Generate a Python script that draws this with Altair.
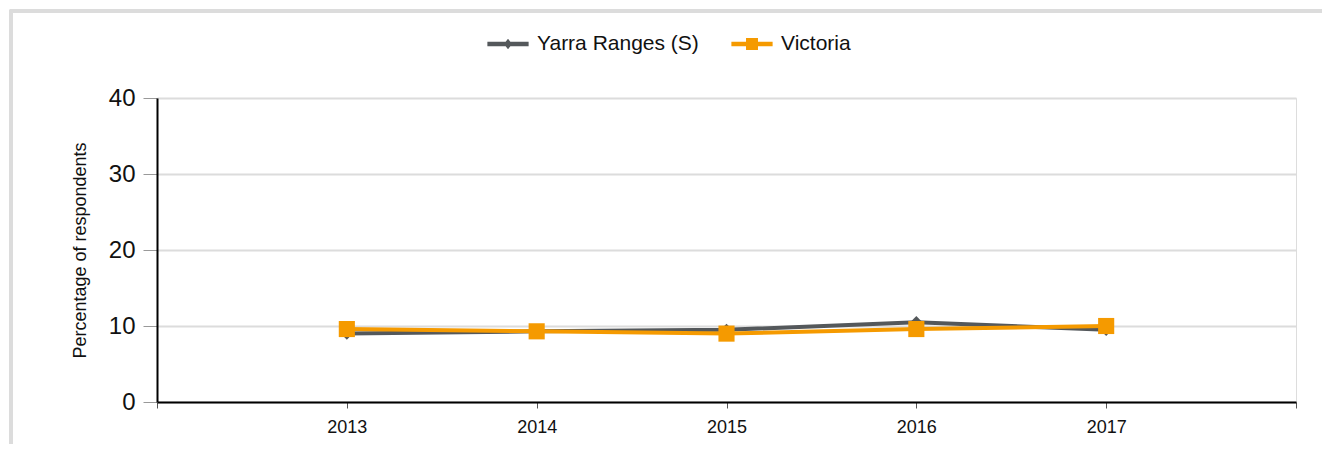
import altair as alt
import pandas as pd

years = [2013, 2014, 2015, 2016, 2017]
yarra = [9.0, 9.3, 9.5, 10.5, 9.5]
victoria = [9.6, 9.3, 9.0, 9.6, 10.0]
series_names = ["Yarra Ranges (S)", "Victoria"]
series_colors = ["#54585b", "#f59a00"]

rows = []
for y, v in zip(years, yarra):
    rows.append({"year": y, "value": v, "series": series_names[0]})
for y, v in zip(years, victoria):
    rows.append({"year": y, "value": v, "series": series_names[1]})
df = pd.DataFrame(rows)

FONT = "Liberation Sans"

# legend symbol paths: a line with a marker in the middle
leg_diamond = "M-1,-0.11L1,-0.11L1,0.11L-1,0.11Z M0,-0.26L0.2,0L0,0.26L-0.2,0Z"
leg_square = "M-1,-0.11L1,-0.11L1,0.11L-1,0.11Z M-0.29,-0.29L0.29,-0.29L0.29,0.29L-0.29,0.29Z"

legend_opts = dict(
    title=None,
    orient="none",
    legendX=330,
    legendY=-75,
    direction="horizontal",
    symbolSize=1700,
    symbolStrokeWidth=0,
    symbolOpacity=1,
    labelFont=FONT,
    labelFontSize=21,
    labelColor="#111111",
    labelLimit=400,
    columnPadding=32,
    labelOffset=8,
)

color = alt.Color(
    "series:N",
    scale=alt.Scale(domain=series_names, range=series_colors),
    legend=alt.Legend(**legend_opts),
)
shape = alt.Shape(
    "series:N",
    scale=alt.Scale(domain=series_names, range=[leg_diamond, leg_square]),
    legend=alt.Legend(**legend_opts),
)

x = alt.X(
    "year:Q",
    scale=alt.Scale(domain=[2012, 2018], nice=False, zero=False),
    axis=alt.Axis(
        title=None,
        values=[2012, 2013, 2014, 2015, 2016, 2017, 2018],
        labelExpr="(datum.value == 2012 || datum.value == 2018) ? '' : datum.value",
        grid=False,
        domainColor="#000000",
        domainWidth=2,
        tickColor="#555555",
        tickSize=6,
        tickWidth=1,
        labelFont=FONT,
        labelFontSize=18,
        labelColor="#111111",
        labelPadding=10,
    ),
)
y = alt.Y(
    "value:Q",
    scale=alt.Scale(domain=[0, 40], nice=False),
    axis=alt.Axis(
        title="Percentage of respondents",
        values=[0, 10, 20, 30, 40],
        grid=True,
        gridColor="#dcdcdc",
        gridWidth=2,
        domainColor="#000000",
        domainWidth=2,
        tickColor="#999999",
        tickSize=14,
        tickWidth=1,
        labelFont=FONT,
        labelFontSize=24,
        labelColor="#111111",
        labelPadding=8,
        titleFont=FONT,
        titleFontSize=18,
        titleFontWeight="normal",
        titleColor="#111111",
        titlePadding=19,
    ),
)

base = alt.Chart(df)

frame = base.mark_rect(filled=False, stroke="#dcdcdc", strokeWidth=2.5).encode(
    x=alt.value(-146), x2=alt.value(1300), y=alt.value(-87), y2=alt.value(420)
)

lines = base.mark_line(strokeWidth=4).encode(x=x, y=y, color=color)

yarra_pts = base.transform_filter(alt.datum.series == series_names[0]).mark_point(
    shape="diamond", filled=True, size=150, opacity=1
).encode(x=x, y=y, color=color)

vic_pts = base.transform_filter(alt.datum.series == series_names[1]).mark_point(
    shape="square", filled=True, size=260, opacity=1
).encode(x=x, y=y, color=color)

legend_layer = base.mark_point(filled=True, opacity=0).encode(
    x=x, y=y, color=color, shape=shape
)

chart = alt.layer(frame, lines, yarra_pts, vic_pts, legend_layer).properties(
    width=1139,
    height=304,
    autosize=alt.AutoSizeParams(type="none"),
    padding={"left": 149, "top": 90, "right": 26, "bottom": 42},
).configure_view(stroke=None).configure(background="white")

chart.save("out.html", embed_options={"renderer": "svg", "actions": False})
